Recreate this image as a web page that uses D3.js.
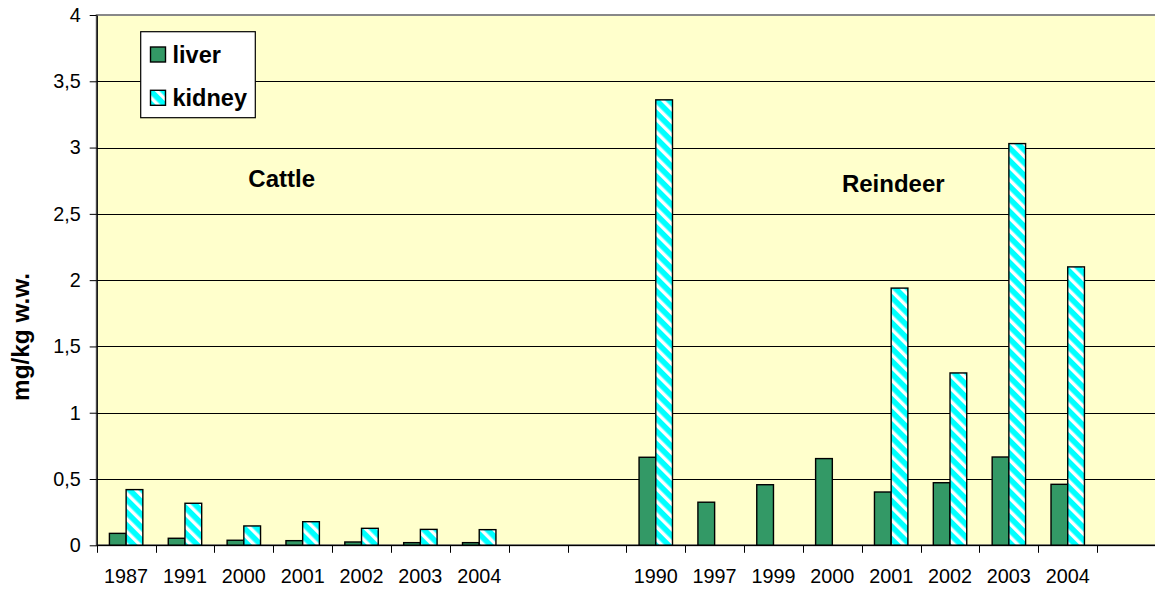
<!DOCTYPE html>
<html>
<head>
<meta charset="utf-8">
<script src="https://cdn.jsdelivr.net/npm/d3@7"></script>
<style>
  html, body { margin: 0; padding: 0; background: #ffffff; }
  svg { display: block; font-family: "Liberation Sans", Arial, sans-serif; }
</style>
</head>
<body>
<svg id="chart" width="1155" height="590"></svg>
<script>
// Category slots along the x axis; empty strings are spacer slots between groups.
const categories = ["1987", "1991", "2000", "2001", "2002", "2003", "2004", "", "",
                    "1990", "1997", "1999", "2000", "2001", "2002", "2003", "2004", ""];
// Concentrations, mg/kg wet weight (null = not measured)
const liver  = [0.09, 0.053, 0.038, 0.035, 0.025, 0.02, 0.02, null, null,
                0.664, 0.325, 0.457, 0.654, 0.402, 0.472, 0.666, 0.46, null];
const kidney = [0.42, 0.317, 0.146, 0.178, 0.128, 0.12, 0.118, null, null,
                3.36, null, null, null, 1.94, 1.30, 3.03, 2.10, null];
const seriesNames = ["liver", "kidney"];
const yTicks = [0, 0.5, 1, 1.5, 2, 2.5, 3, 3.5, 4];
const groupLabels = ["Cattle", "Reindeer"];
const yTitle = "mg/kg w.w.";

const svg = d3.select("#chart");
const margin = { left: 96.7, top: 15, right: 1156, bottom: 545.3 };

const x = d3.scaleBand()
  .domain(d3.range(categories.length))
  .range([margin.left, margin.right])
  .paddingInner(0).paddingOuter(0);
const y = d3.scaleLinear().domain([0, 4]).range([margin.bottom, margin.top]);

const fmt = v => String(v).replace(".", ",");

// Diagonal stripe fill for the kidney series
const defs = svg.append("defs");
const pat = defs.append("pattern")
  .attr("id", "stripes")
  .attr("patternUnits", "userSpaceOnUse")
  .attr("width", 9).attr("height", 9)
  .attr("patternTransform", "rotate(-45)");
pat.append("rect").attr("width", 9).attr("height", 9).attr("fill", "#00FFFF");
pat.append("rect").attr("x", 0).attr("width", 3.4).attr("height", 9).attr("fill", "#ffffff");

// Plot background
svg.append("rect")
  .attr("x", margin.left).attr("y", margin.top)
  .attr("width", margin.right - margin.left)
  .attr("height", margin.bottom - margin.top)
  .attr("fill", "#FFFFCC")
  .attr("stroke", "#888888").attr("stroke-width", 2);

// Horizontal gridlines
svg.append("g")
  .selectAll("line")
  .data(yTicks.filter(t => t > 0 && t < 4))
  .join("line")
  .attr("x1", margin.left).attr("x2", margin.right)
  .attr("y1", d => Math.round(y(d)) + 0.5).attr("y2", d => Math.round(y(d)) + 0.5)
  .attr("stroke", "#000").attr("stroke-width", 1);

// Bars
const bw = x.bandwidth() * 0.284;
const offset = (x.bandwidth() - 2 * bw) / 2;
const series = [
  { name: seriesNames[0], values: liver, fill: "#339966", slot: 0 },
  { name: seriesNames[1], values: kidney, fill: "url(#stripes)", slot: 1 }
];
series.forEach(s => {
  svg.append("g")
    .selectAll("rect")
    .data(s.values.map((v, i) => ({ i, v })).filter(d => d.v != null))
    .join("rect")
    .attr("x", d => x(d.i) + offset + s.slot * bw)
    .attr("y", d => y(d.v))
    .attr("width", bw)
    .attr("height", d => y(0) - y(d.v))
    .attr("fill", s.fill)
    .attr("stroke", "#000").attr("stroke-width", 1.4);
});

// Y axis
const yAxis = d3.axisLeft(y).tickValues(yTicks).tickFormat(fmt).tickSizeInner(7).tickSizeOuter(0).tickPadding(9);
const gy = svg.append("g").attr("transform", `translate(${margin.left},0)`).call(yAxis);
gy.select(".domain").attr("stroke", "#000").attr("stroke-width", 1.3);
gy.selectAll(".tick line").attr("stroke", "#000");
gy.selectAll("text").attr("font-size", "19.8px").attr("fill", "#000")
  .attr("font-family", "'Liberation Sans', Arial, sans-serif");

// X axis: ticks at category boundaries, labels centred in slots
const gx = svg.append("g");
gx.append("line")
  .attr("x1", margin.left).attr("x2", margin.right)
  .attr("y1", y(0)).attr("y2", y(0))
  .attr("stroke", "#000").attr("stroke-width", 1.3);
gx.selectAll("line.tk")
  .data(d3.range(categories.length))
  .join("line").attr("class", "tk")
  .attr("x1", d => Math.round(x(d)) + 0.5).attr("x2", d => Math.round(x(d)) + 0.5)
  .attr("y1", y(0)).attr("y2", y(0) + 7.5)
  .attr("stroke", "#000");
gx.selectAll("text")
  .data(categories.map((c, i) => ({ c, i })))
  .join("text")
  .attr("x", d => x(d.i) + x.bandwidth() / 2)
  .attr("y", 583)
  .attr("text-anchor", "middle")
  .attr("font-size", "19.8px")
  .text(d => d.c);

// Y axis title
svg.append("text")
  .attr("transform", `translate(28.5,337) rotate(-90)`)
  .attr("text-anchor", "middle")
  .attr("font-size", "24.3px").attr("font-weight", "bold")
  .text(yTitle);

// Group labels
svg.append("text")
  .attr("x", 281.7).attr("y", 186.7)
  .attr("text-anchor", "middle")
  .attr("font-size", "24px").attr("font-weight", "bold")
  .text(groupLabels[0]);
svg.append("text")
  .attr("x", 893.3).attr("y", 191.7)
  .attr("text-anchor", "middle")
  .attr("font-size", "24px").attr("font-weight", "bold")
  .text(groupLabels[1]);

// Legend
const lg = svg.append("g");
lg.append("rect")
  .attr("x", 140.7).attr("y", 31.7).attr("width", 114.6).attr("height", 86)
  .attr("fill", "#fff").attr("stroke", "#000").attr("stroke-width", 1.2);
const items = [
  { name: seriesNames[0], fill: "#339966", sy: 47, ty: 63.3 },
  { name: seriesNames[1], fill: "url(#stripes)", sy: 90.3, ty: 106 }
];
items.forEach(it => {
  lg.append("rect")
    .attr("x", 150.5).attr("y", it.sy).attr("width", 15).attr("height", 15)
    .attr("fill", it.fill).attr("stroke", "#000").attr("stroke-width", 1.4);
  lg.append("text")
    .attr("x", 172.5).attr("y", it.ty)
    .attr("font-size", "23.5px").attr("font-weight", "bold")
    .text(it.name);
});
</script>
</body>
</html>
